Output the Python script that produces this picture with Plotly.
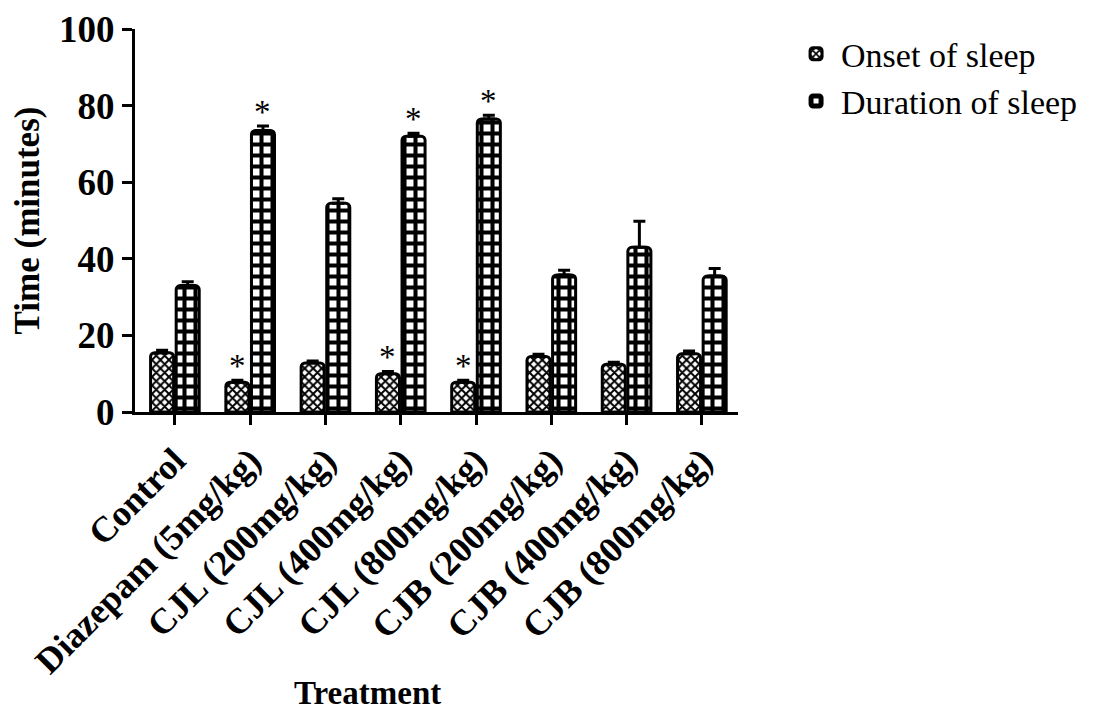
import plotly.graph_objects as go

categories = ["Control", "Diazepam (5mg/kg)", "CJL (200mg/kg)", "CJL (400mg/kg)",
              "CJL (800mg/kg)", "CJB (200mg/kg)", "CJB (400mg/kg)", "CJB (800mg/kg)"]
onset = [15.5, 7.8, 12.8, 10.0, 7.8, 14.5, 12.5, 15.2]
onset_err = [0.6, 0.5, 0.5, 0.6, 0.5, 0.6, 0.5, 0.7]
duration = [33.0, 73.5, 54.5, 72.0, 76.5, 35.8, 43.0, 35.5]
duration_err = [1.0, 1.2, 1.2, 0.8, 1.0, 1.2, 6.8, 2.0]
onset_sig = [False, True, False, True, True, False, False, False]
duration_sig = [False, True, False, True, True, False, False, False]
y_ticks = [0, 20, 40, 60, 80, 100]

FONT = "Liberation Serif"
BAR_OFFSET = 0.17

fig = go.Figure()
fig.add_trace(go.Bar(
    name="Onset of sleep", x=categories, y=onset,
    error_y=dict(type="data", array=onset_err, arrayminus=[0] * len(onset_err),
                 symmetric=False, color="black", thickness=3, width=6),
    marker=dict(color="white", line=dict(color="black", width=3), cornerradius=4,
                pattern=dict(shape="x", size=6, solidity=0.55, fgcolor="black",
                             bgcolor="white", fillmode="replace")),
))
fig.add_trace(go.Bar(
    name="Duration of sleep", x=categories, y=duration,
    error_y=dict(type="data", array=duration_err, arrayminus=[0] * len(duration_err),
                 symmetric=False, color="black", thickness=3, width=6),
    marker=dict(color="white", line=dict(color="black", width=3), cornerradius=4,
                pattern=dict(shape="+", size=11, solidity=0.6, fgcolor="black",
                             bgcolor="white", fillmode="replace")),
))

annotations = []
for i, (v, e, s) in enumerate(zip(onset, onset_err, onset_sig)):
    if s:
        annotations.append(dict(x=i - BAR_OFFSET, y=v + e, xref="x", yref="y", text="*",
                                showarrow=False, yanchor="bottom", yshift=-6,
                                font=dict(family=FONT, size=33, color="black")))
for i, (v, e, s) in enumerate(zip(duration, duration_err, duration_sig)):
    if s:
        annotations.append(dict(x=i + BAR_OFFSET, y=v + e, xref="x", yref="y", text="*",
                                showarrow=False, yanchor="bottom", yshift=-6,
                                font=dict(family=FONT, size=33, color="black")))
annotations.append(dict(x=0.385, y=-0.733, xref="paper", yref="paper", text="<b>Treatment</b>",
                        showarrow=False, xanchor="center", yanchor="middle", borderpad=0,
                        font=dict(family=FONT, size=33, color="black")))

fig.update_layout(
    width=1081, height=709,
    margin=dict(l=127, r=351, t=21, b=305, autoexpand=False),
    paper_bgcolor="white", plot_bgcolor="white",
    barmode="group", bargap=0.32, bargroupgap=0.1,
    font=dict(family=FONT, color="black"),
    showlegend=True,
    legend=dict(x=1.088, y=1.01, xanchor="left", yanchor="top",
                font=dict(family=FONT, size=34, color="black"),
                bgcolor="rgba(0,0,0,0)", tracegroupgap=0, itemwidth=40),
    annotations=annotations,
    xaxis=dict(
        range=[-0.53, 7.48], showline=True, linecolor="black", linewidth=3,
        ticks="outside", ticklen=10, tickwidth=3, tickcolor="black",
        tickangle=-45, tickfont=dict(family=FONT, size=36, color="black", weight="bold"),
        showgrid=False, zeroline=False, automargin=False,
    ),
    yaxis=dict(
        range=[0, 100], tickvals=y_ticks, showline=True, linecolor="black", linewidth=3,
        ticks="outside", ticklen=10, tickwidth=3, tickcolor="black",
        tickfont=dict(family=FONT, size=37, color="black", weight="bold"),
        title=dict(text="<b>Time (minutes)</b>", font=dict(family=FONT, size=35, color="black"),
                   standoff=12),
        showgrid=False, zeroline=False, automargin=False,
    ),
)

fig.write_html("out.html")
